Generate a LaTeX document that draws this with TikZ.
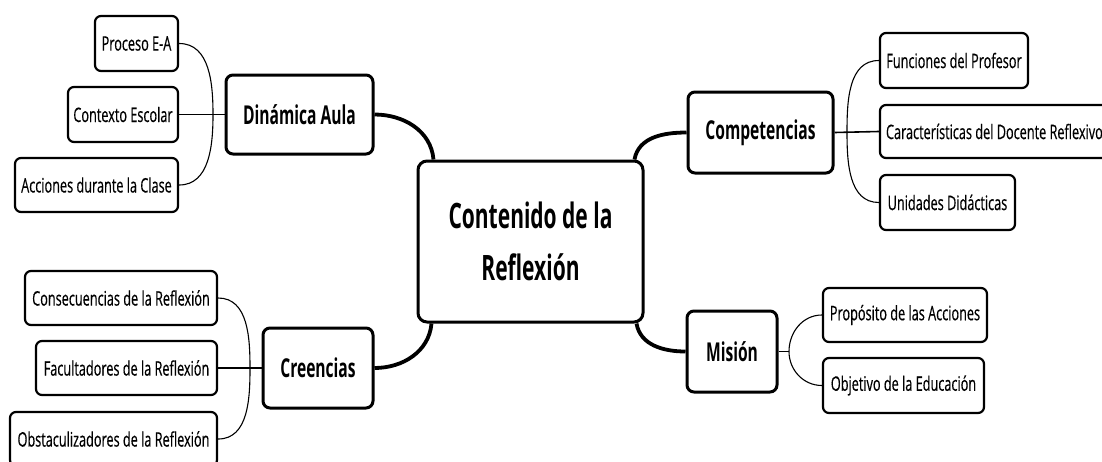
\documentclass[tikz,border=0pt]{standalone}
\usepackage{fontspec}
\setmainfont{Open Sans}[FakeStretch=0.635,FakeBold=0.4]
\newfontfamily\mainfont{Open Sans}[FakeStretch=0.60]
\newfontfamily\centfont{Open Sans}[FakeStretch=0.60]
\begin{document}
\begin{tikzpicture}[x=1pt,y=-1pt,
  leaf/.style={draw,line width=2.2pt,rounded corners=6pt,inner sep=0pt,align=center,font=\fontsize{20}{22}\selectfont},
  topic/.style={draw,line width=3pt,rounded corners=7pt,inner sep=0pt,align=center,font=\mainfont\bfseries\fontsize{26}{30}\selectfont},
  core/.style={draw,line width=3pt,rounded corners=9pt,inner sep=0pt,align=center,font=\centfont\bfseries\fontsize{35}{52}\selectfont},
  thick link/.style={line width=3.8pt},
  thin link/.style={line width=1.1pt},
  mid link/.style={line width=1.6pt}]
\useasboundingbox (0,0) rectangle (1102,461);
\clip (0,0) rectangle (1102,461);
% central
\node[core,minimum width=225pt,minimum height=161pt] (cen) at (530.5,241.5) {Contenido de la\\Reflexión};
% topics
\node[topic,minimum width=147pt,minimum height=79pt] (dyn) at (299.5,114.5) {Dinámica Aula};
\node[topic,minimum width=110pt,minimum height=80pt] (cre) at (318,368) {Creencias};
\node[topic,minimum width=145pt,minimum height=81pt] (comp) at (760.5,132.5) {Competencias};
\node[topic,minimum width=90pt,minimum height=81pt] (mis) at (732,351.5) {Misión};
% leaves
\node[leaf,minimum width=83pt,minimum height=55pt] (pea) at (136.5,43.5) {Proceso E-A};
\node[leaf,minimum width=110pt,minimum height=55pt] (ctx) at (123,114.5) {Contexto Escolar};
\node[leaf,minimum width=163pt,minimum height=54pt] (acc) at (96.5,185) {Acciones durante la Clase};
\node[leaf,minimum width=192pt,minimum height=54pt] (cons) at (121,298) {Consecuencias de la Reflexión};
\node[leaf,minimum width=181pt,minimum height=54pt] (fac) at (126.5,368) {Facultadores de la Reflexión};
\node[leaf,minimum width=207pt,minimum height=54pt] (obs) at (113.5,439) {Obstaculizadores de la Reflexión};
\node[leaf,minimum width=148pt,minimum height=55pt] (fun) at (954,60.5) {Funciones del Profesor};
\node[leaf,minimum width=238pt,minimum height=53pt] (car) at (999,131.5) {\makebox[226pt][l]{Características del Docente Reflexivo}};
\node[leaf,minimum width=135pt,minimum height=55pt] (uni) at (947.5,202.5) {Unidades Didácticas};
\node[leaf,minimum width=164pt,minimum height=54pt] (pro) at (905,315) {Propósito de las Acciones};
\node[leaf,minimum width=161pt,minimum height=55pt] (obj) at (903.5,385.5) {Objetivo de la Educación};
% junctions
\coordinate (jd) at (213,114.5);
\coordinate (jc) at (250,368);
\coordinate (jp) at (847,132.5);
\coordinate (jm) at (789,351.5);
% central anchors
\coordinate (cTL) at ([xshift=17pt]cen.north west);
\coordinate (cBL) at ([xshift=15pt]cen.south west);
\coordinate (cTR) at ([xshift=-10pt]cen.north east);
\coordinate (cBR) at ([xshift=-8pt]cen.south east);
% thick links
\draw[thick link] (dyn.east) to[out=0,in=95] (cTL);
\draw[thick link] (cre.east) to[out=0,in=-95] (cBL);
\draw[thick link] (cTR) to[out=80,in=180] (comp.west);
\draw[thick link] (cBR) to[out=-80,in=180] (mis.west);
% Dinamica branch
\draw[thin link] (pea.east) to[out=0,in=90] (jd);
\draw[thin link] (acc.east) to[out=0,in=-90] (jd);
\draw[mid link] (ctx.east) -- (dyn.west);
% Creencias branch
\draw[thin link] (cons.east) to[out=0,in=90] (jc);
\draw[thin link] (obs.east) to[out=0,in=-90] (jc);
\draw[mid link] (fac.east) -- (cre.west);
% Competencias branch
\draw[thin link] (jp) to[out=90,in=180] (fun.west);
\draw[thin link] (jp) to[out=-90,in=180] (uni.west);
\draw[mid link] (comp.east) -- (car.west);
% Mision branch
\draw[mid link] (mis.east) -- (jm);
\draw[thin link] (jm) to[out=90,in=180] (pro.west);
\draw[thin link] (jm) to[out=-90,in=180] (obj.west);
\end{tikzpicture}
\end{document}
